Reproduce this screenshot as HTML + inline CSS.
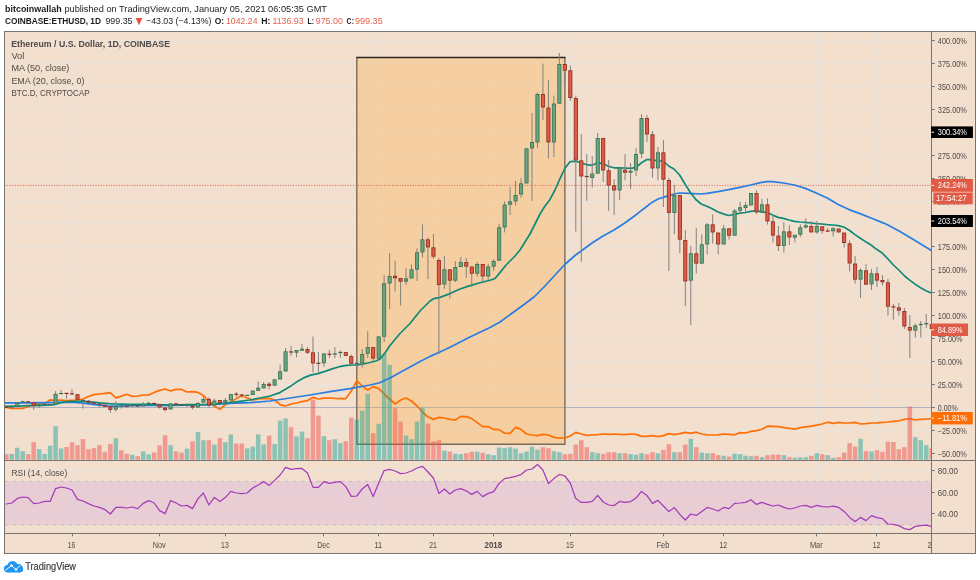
<!DOCTYPE html>
<html lang="en"><head><meta charset="utf-8"><title>ETHUSD chart by bitcoinwallah</title>
<style>html,body{margin:0;padding:0;background:#fff}body{width:980px;height:580px;overflow:hidden}svg{display:block}text{font-family:"Liberation Sans", sans-serif}</style></head><body>
<svg width="980" height="580" viewBox="0 0 980 580">
<defs><clipPath id="cpMain"><rect x="4.5" y="31.5" width="927.0" height="429.0"/></clipPath><clipPath id="cpRsi"><rect x="4.5" y="460.5" width="927.0" height="73.0"/></clipPath><clipPath id="cpTime"><rect x="4.5" y="533.5" width="927.0" height="20.0"/></clipPath></defs>
<rect x="0" y="0" width="980" height="580" fill="#ffffff"/>
<text x="5.0" y="11.6" font-size="9.2" fill="#1c1c1c" font-weight="700" textLength="56.6" lengthAdjust="spacingAndGlyphs">bitcoinwallah</text>
<text x="64.4" y="11.6" font-size="9.2" fill="#1c1c1c" textLength="262.6" lengthAdjust="spacingAndGlyphs">published on TradingView.com, January 05, 2021 06:05:35 GMT</text>
<text x="5.0" y="23.6" font-size="9.2" fill="#1c1c1c" font-weight="700" textLength="96.0" lengthAdjust="spacingAndGlyphs">COINBASE:ETHUSD, 1D</text>
<text x="105.4" y="23.6" font-size="9.2" fill="#1c1c1c" textLength="27.1" lengthAdjust="spacingAndGlyphs">999.35</text>
<polygon points="135.6,18 142.4,18 139,25.2" fill="#e8523f"/>
<text x="146.0" y="23.6" font-size="9.2" fill="#1c1c1c" textLength="65.4" lengthAdjust="spacingAndGlyphs">−43.03 (−4.13%)</text>
<text x="214.8" y="23.6" font-size="9.2" fill="#1c1c1c" font-weight="700" textLength="9.4" lengthAdjust="spacingAndGlyphs">O:</text>
<text x="226.0" y="23.6" font-size="9.2" fill="#e8604c" textLength="31.5" lengthAdjust="spacingAndGlyphs">1042.24</text>
<text x="261.3" y="23.6" font-size="9.2" fill="#1c1c1c" font-weight="700" textLength="9.2" lengthAdjust="spacingAndGlyphs">H:</text>
<text x="272.5" y="23.6" font-size="9.2" fill="#e8604c" textLength="31.0" lengthAdjust="spacingAndGlyphs">1136.93</text>
<text x="307.5" y="23.6" font-size="9.2" fill="#1c1c1c" font-weight="700" textLength="6.5" lengthAdjust="spacingAndGlyphs">L:</text>
<text x="315.8" y="23.6" font-size="9.2" fill="#e8604c" textLength="27.0" lengthAdjust="spacingAndGlyphs">975.00</text>
<text x="346.6" y="23.6" font-size="9.2" fill="#1c1c1c" font-weight="700" textLength="7.4" lengthAdjust="spacingAndGlyphs">C:</text>
<text x="355.0" y="23.6" font-size="9.2" fill="#e8604c" textLength="27.7" lengthAdjust="spacingAndGlyphs">999.35</text>
<rect x="4.5" y="31.5" width="971.0" height="522.0" fill="#f2dfce"/>
<g stroke="#eae4df" stroke-width="1" fill="none">
<line x1="72.5" y1="31.5" x2="72.5" y2="533.5"/>
<line x1="159.5" y1="31.5" x2="159.5" y2="533.5"/>
<line x1="225.5" y1="31.5" x2="225.5" y2="533.5"/>
<line x1="323.5" y1="31.5" x2="323.5" y2="533.5"/>
<line x1="378.5" y1="31.5" x2="378.5" y2="533.5"/>
<line x1="433.5" y1="31.5" x2="433.5" y2="533.5"/>
<line x1="493.5" y1="31.5" x2="493.5" y2="533.5"/>
<line x1="570.5" y1="31.5" x2="570.5" y2="533.5"/>
<line x1="663.5" y1="31.5" x2="663.5" y2="533.5"/>
<line x1="723.5" y1="31.5" x2="723.5" y2="533.5"/>
<line x1="816.5" y1="31.5" x2="816.5" y2="533.5"/>
<line x1="876.5" y1="31.5" x2="876.5" y2="533.5"/>
<line x1="4.5" y1="453.5" x2="931.5" y2="453.5"/>
<line x1="4.5" y1="430.5" x2="931.5" y2="430.5"/>
<line x1="4.5" y1="384.5" x2="931.5" y2="384.5"/>
<line x1="4.5" y1="361.5" x2="931.5" y2="361.5"/>
<line x1="4.5" y1="338.5" x2="931.5" y2="338.5"/>
<line x1="4.5" y1="315.5" x2="931.5" y2="315.5"/>
<line x1="4.5" y1="292.5" x2="931.5" y2="292.5"/>
<line x1="4.5" y1="269.5" x2="931.5" y2="269.5"/>
<line x1="4.5" y1="246.5" x2="931.5" y2="246.5"/>
<line x1="4.5" y1="223.5" x2="931.5" y2="223.5"/>
<line x1="4.5" y1="201.5" x2="931.5" y2="201.5"/>
<line x1="4.5" y1="178.5" x2="931.5" y2="178.5"/>
<line x1="4.5" y1="155.5" x2="931.5" y2="155.5"/>
<line x1="4.5" y1="132.5" x2="931.5" y2="132.5"/>
<line x1="4.5" y1="109.5" x2="931.5" y2="109.5"/>
<line x1="4.5" y1="86.5" x2="931.5" y2="86.5"/>
<line x1="4.5" y1="63.5" x2="931.5" y2="63.5"/>
<line x1="4.5" y1="40.5" x2="931.5" y2="40.5"/>
<line x1="4.5" y1="470.5" x2="931.5" y2="470.5"/>
<line x1="4.5" y1="492.5" x2="931.5" y2="492.5"/>
<line x1="4.5" y1="513.5" x2="931.5" y2="513.5"/>
</g>
<line x1="4.5" y1="407.5" x2="931.5" y2="407.5" stroke="#adb1c0" stroke-width="1"/>
<g clip-path="url(#cpMain)">
<rect x="356.8" y="57.7" width="208.1" height="386.6" fill="#fdab3d" fill-opacity="0.30"/>
<path d="M356.8 57.7 V444.3 H564.9 V57.7" fill="none" stroke="#7a6b59" stroke-width="1.4"/>
<line x1="356.2" y1="57.5" x2="565.5" y2="57.5" stroke="#2a2522" stroke-width="1.3"/>
<polyline fill="none" stroke="#ff6f05" stroke-width="1.7" stroke-linejoin="round" stroke-linecap="round" points="6.3,407.5 11.8,408.3 17.3,408.5 22.7,408.5 28.2,406.5 33.7,404.5 39.2,404.2 44.6,404.0 50.1,399.8 55.6,400.5 61.1,400.0 66.5,400.7 72.0,400.4 77.5,400.0 83.0,399.0 88.4,396.5 93.9,394.6 99.4,394.0 104.9,393.3 110.3,392.6 115.8,397.9 121.3,396.1 126.8,394.3 132.2,396.4 137.7,396.0 143.2,395.0 148.7,395.0 154.2,392.4 159.6,390.4 165.1,389.0 170.6,391.0 176.1,389.4 181.5,389.4 187.0,392.0 192.5,391.6 198.0,392.4 203.4,395.4 208.9,401.0 214.4,406.0 219.9,409.4 225.3,404.6 230.8,402.0 236.3,398.6 241.8,395.4 247.2,398.0 252.7,400.0 258.2,399.0 263.7,398.6 269.1,398.4 274.6,400.0 280.1,404.6 285.6,406.0 291.1,404.0 296.5,403.0 302.0,401.6 307.5,400.6 313.0,397.4 318.4,399.0 323.9,398.2 329.4,398.0 334.9,398.4 340.3,398.6 345.8,398.6 351.3,391.0 356.8,380.6 362.2,386.0 367.7,390.0 373.2,386.6 378.7,388.6 384.1,394.0 389.6,399.0 395.1,404.0 400.6,400.0 406.0,398.0 411.5,401.0 417.0,406.0 422.5,412.0 428.0,417.0 433.4,419.4 438.9,417.4 444.4,418.0 449.9,419.4 455.3,420.0 460.8,416.4 466.3,416.6 471.8,418.6 477.2,422.6 482.7,426.6 488.2,426.6 493.7,429.4 499.1,429.6 504.6,433.2 510.1,433.4 515.6,427.4 521.0,429.4 526.5,434.0 532.0,435.0 537.5,435.6 542.9,434.4 548.4,435.0 553.9,437.4 559.4,438.2 564.9,438.0 570.3,436.0 575.8,432.4 581.3,434.0 586.8,435.4 592.2,435.0 597.7,434.6 603.2,434.0 608.7,434.4 614.1,434.0 619.6,434.4 625.1,434.6 630.6,434.0 636.0,434.4 641.5,436.4 647.0,436.4 652.5,435.6 657.9,436.6 663.4,435.6 668.9,433.6 674.4,434.6 679.8,433.6 685.3,432.4 690.8,433.4 696.3,432.2 701.8,434.0 707.2,434.8 712.7,435.0 718.2,434.8 723.7,434.0 729.1,434.4 734.6,434.8 740.1,432.6 745.6,433.0 751.0,431.4 756.5,430.6 762.0,429.2 767.5,426.2 772.9,426.4 778.4,426.6 783.9,427.6 789.4,428.4 794.8,429.2 800.3,427.6 805.8,426.8 811.3,426.2 816.7,425.2 822.2,424.0 827.7,422.2 833.2,423.4 838.7,422.4 844.1,423.0 849.6,422.8 855.1,422.4 860.6,424.0 866.0,423.6 871.5,423.0 877.0,422.8 882.5,422.4 887.9,422.0 893.4,421.4 898.9,420.8 904.4,419.4 909.8,418.6 915.3,420.0 920.8,419.4 926.3,419.0 931.7,418.6"/>
<g>
<rect x="4.05" y="454.20" width="4.5" height="5.60" fill="rgba(239,83,80,0.5)"/>
<rect x="9.53" y="453.90" width="4.5" height="5.90" fill="rgba(38,166,154,0.5)"/>
<rect x="15.00" y="447.80" width="4.5" height="12.00" fill="rgba(38,166,154,0.5)"/>
<rect x="20.48" y="451.20" width="4.5" height="8.60" fill="rgba(38,166,154,0.5)"/>
<rect x="25.95" y="454.10" width="4.5" height="5.70" fill="rgba(239,83,80,0.5)"/>
<rect x="31.43" y="442.10" width="4.5" height="17.70" fill="rgba(239,83,80,0.5)"/>
<rect x="36.91" y="449.10" width="4.5" height="10.70" fill="rgba(38,166,154,0.5)"/>
<rect x="42.38" y="453.90" width="4.5" height="5.90" fill="rgba(38,166,154,0.5)"/>
<rect x="47.86" y="445.70" width="4.5" height="14.10" fill="rgba(38,166,154,0.5)"/>
<rect x="53.33" y="426.20" width="4.5" height="33.60" fill="rgba(38,166,154,0.5)"/>
<rect x="58.81" y="448.50" width="4.5" height="11.30" fill="rgba(38,166,154,0.5)"/>
<rect x="64.29" y="447.10" width="4.5" height="12.70" fill="rgba(239,83,80,0.5)"/>
<rect x="69.76" y="442.20" width="4.5" height="17.60" fill="rgba(239,83,80,0.5)"/>
<rect x="75.24" y="445.20" width="4.5" height="14.60" fill="rgba(239,83,80,0.5)"/>
<rect x="80.71" y="439.10" width="4.5" height="20.70" fill="rgba(239,83,80,0.5)"/>
<rect x="86.19" y="449.20" width="4.5" height="10.60" fill="rgba(239,83,80,0.5)"/>
<rect x="91.67" y="448.10" width="4.5" height="11.70" fill="rgba(239,83,80,0.5)"/>
<rect x="97.14" y="445.10" width="4.5" height="14.70" fill="rgba(239,83,80,0.5)"/>
<rect x="102.62" y="451.80" width="4.5" height="8.00" fill="rgba(239,83,80,0.5)"/>
<rect x="108.09" y="443.90" width="4.5" height="15.90" fill="rgba(239,83,80,0.5)"/>
<rect x="113.57" y="438.20" width="4.5" height="21.60" fill="rgba(38,166,154,0.5)"/>
<rect x="119.05" y="450.20" width="4.5" height="9.60" fill="rgba(239,83,80,0.5)"/>
<rect x="124.52" y="453.70" width="4.5" height="6.10" fill="rgba(239,83,80,0.5)"/>
<rect x="130.00" y="454.80" width="4.5" height="5.00" fill="rgba(38,166,154,0.5)"/>
<rect x="135.47" y="456.20" width="4.5" height="3.60" fill="rgba(239,83,80,0.5)"/>
<rect x="140.95" y="451.40" width="4.5" height="8.40" fill="rgba(38,166,154,0.5)"/>
<rect x="146.43" y="454.40" width="4.5" height="5.40" fill="rgba(38,166,154,0.5)"/>
<rect x="151.90" y="452.40" width="4.5" height="7.40" fill="rgba(239,83,80,0.5)"/>
<rect x="157.38" y="445.40" width="4.5" height="14.40" fill="rgba(239,83,80,0.5)"/>
<rect x="162.85" y="435.20" width="4.5" height="24.60" fill="rgba(239,83,80,0.5)"/>
<rect x="168.33" y="445.20" width="4.5" height="14.60" fill="rgba(38,166,154,0.5)"/>
<rect x="173.81" y="451.40" width="4.5" height="8.40" fill="rgba(239,83,80,0.5)"/>
<rect x="179.28" y="452.60" width="4.5" height="7.20" fill="rgba(239,83,80,0.5)"/>
<rect x="184.76" y="448.60" width="4.5" height="11.20" fill="rgba(38,166,154,0.5)"/>
<rect x="190.23" y="441.40" width="4.5" height="18.40" fill="rgba(239,83,80,0.5)"/>
<rect x="195.71" y="432.00" width="4.5" height="27.80" fill="rgba(38,166,154,0.5)"/>
<rect x="201.19" y="440.20" width="4.5" height="19.60" fill="rgba(38,166,154,0.5)"/>
<rect x="206.66" y="440.20" width="4.5" height="19.60" fill="rgba(239,83,80,0.5)"/>
<rect x="212.14" y="444.60" width="4.5" height="15.20" fill="rgba(38,166,154,0.5)"/>
<rect x="217.61" y="438.20" width="4.5" height="21.60" fill="rgba(239,83,80,0.5)"/>
<rect x="223.09" y="442.20" width="4.5" height="17.60" fill="rgba(38,166,154,0.5)"/>
<rect x="228.57" y="434.40" width="4.5" height="25.40" fill="rgba(38,166,154,0.5)"/>
<rect x="234.04" y="443.60" width="4.5" height="16.20" fill="rgba(239,83,80,0.5)"/>
<rect x="239.52" y="443.60" width="4.5" height="16.20" fill="rgba(239,83,80,0.5)"/>
<rect x="244.99" y="448.40" width="4.5" height="11.40" fill="rgba(38,166,154,0.5)"/>
<rect x="250.47" y="446.60" width="4.5" height="13.20" fill="rgba(38,166,154,0.5)"/>
<rect x="255.95" y="434.40" width="4.5" height="25.40" fill="rgba(38,166,154,0.5)"/>
<rect x="261.42" y="444.40" width="4.5" height="15.40" fill="rgba(38,166,154,0.5)"/>
<rect x="266.90" y="435.60" width="4.5" height="24.20" fill="rgba(239,83,80,0.5)"/>
<rect x="272.37" y="444.00" width="4.5" height="15.80" fill="rgba(38,166,154,0.5)"/>
<rect x="277.85" y="420.60" width="4.5" height="39.20" fill="rgba(38,166,154,0.5)"/>
<rect x="283.33" y="418.40" width="4.5" height="41.40" fill="rgba(38,166,154,0.5)"/>
<rect x="288.80" y="427.20" width="4.5" height="32.60" fill="rgba(239,83,80,0.5)"/>
<rect x="294.28" y="436.40" width="4.5" height="23.40" fill="rgba(38,166,154,0.5)"/>
<rect x="299.75" y="431.60" width="4.5" height="28.20" fill="rgba(38,166,154,0.5)"/>
<rect x="305.23" y="438.20" width="4.5" height="21.60" fill="rgba(239,83,80,0.5)"/>
<rect x="310.71" y="399.60" width="4.5" height="60.20" fill="rgba(239,83,80,0.5)"/>
<rect x="316.18" y="415.60" width="4.5" height="44.20" fill="rgba(239,83,80,0.5)"/>
<rect x="321.66" y="436.20" width="4.5" height="23.60" fill="rgba(38,166,154,0.5)"/>
<rect x="327.13" y="440.20" width="4.5" height="19.60" fill="rgba(239,83,80,0.5)"/>
<rect x="332.61" y="439.20" width="4.5" height="20.60" fill="rgba(38,166,154,0.5)"/>
<rect x="338.09" y="443.20" width="4.5" height="16.60" fill="rgba(38,166,154,0.5)"/>
<rect x="343.56" y="441.20" width="4.5" height="18.60" fill="rgba(239,83,80,0.5)"/>
<rect x="349.04" y="417.60" width="4.5" height="42.20" fill="rgba(239,83,80,0.5)"/>
<rect x="354.51" y="419.60" width="4.5" height="40.20" fill="rgba(38,166,154,0.5)"/>
<rect x="359.99" y="410.60" width="4.5" height="49.20" fill="rgba(38,166,154,0.5)"/>
<rect x="365.47" y="393.80" width="4.5" height="66.00" fill="rgba(38,166,154,0.5)"/>
<rect x="370.94" y="433.20" width="4.5" height="26.60" fill="rgba(239,83,80,0.5)"/>
<rect x="376.42" y="423.80" width="4.5" height="36.00" fill="rgba(38,166,154,0.5)"/>
<rect x="381.89" y="353.80" width="4.5" height="106.00" fill="rgba(38,166,154,0.5)"/>
<rect x="387.37" y="364.80" width="4.5" height="95.00" fill="rgba(38,166,154,0.5)"/>
<rect x="392.85" y="408.20" width="4.5" height="51.60" fill="rgba(239,83,80,0.5)"/>
<rect x="398.32" y="421.60" width="4.5" height="38.20" fill="rgba(239,83,80,0.5)"/>
<rect x="403.80" y="435.60" width="4.5" height="24.20" fill="rgba(38,166,154,0.5)"/>
<rect x="409.27" y="439.20" width="4.5" height="20.60" fill="rgba(38,166,154,0.5)"/>
<rect x="414.75" y="421.60" width="4.5" height="38.20" fill="rgba(38,166,154,0.5)"/>
<rect x="420.23" y="407.60" width="4.5" height="52.20" fill="rgba(38,166,154,0.5)"/>
<rect x="425.70" y="423.60" width="4.5" height="36.20" fill="rgba(239,83,80,0.5)"/>
<rect x="431.18" y="441.20" width="4.5" height="18.60" fill="rgba(239,83,80,0.5)"/>
<rect x="436.65" y="440.20" width="4.5" height="19.60" fill="rgba(239,83,80,0.5)"/>
<rect x="442.13" y="450.60" width="4.5" height="9.20" fill="rgba(38,166,154,0.5)"/>
<rect x="447.61" y="451.60" width="4.5" height="8.20" fill="rgba(239,83,80,0.5)"/>
<rect x="453.08" y="453.80" width="4.5" height="6.00" fill="rgba(38,166,154,0.5)"/>
<rect x="458.56" y="454.20" width="4.5" height="5.60" fill="rgba(38,166,154,0.5)"/>
<rect x="464.03" y="453.20" width="4.5" height="6.60" fill="rgba(239,83,80,0.5)"/>
<rect x="469.51" y="451.80" width="4.5" height="8.00" fill="rgba(239,83,80,0.5)"/>
<rect x="474.99" y="451.80" width="4.5" height="8.00" fill="rgba(38,166,154,0.5)"/>
<rect x="480.46" y="452.80" width="4.5" height="7.00" fill="rgba(239,83,80,0.5)"/>
<rect x="485.94" y="454.20" width="4.5" height="5.60" fill="rgba(38,166,154,0.5)"/>
<rect x="491.41" y="455.20" width="4.5" height="4.60" fill="rgba(38,166,154,0.5)"/>
<rect x="496.89" y="447.60" width="4.5" height="12.20" fill="rgba(38,166,154,0.5)"/>
<rect x="502.37" y="448.20" width="4.5" height="11.60" fill="rgba(38,166,154,0.5)"/>
<rect x="507.84" y="447.20" width="4.5" height="12.60" fill="rgba(38,166,154,0.5)"/>
<rect x="513.32" y="448.60" width="4.5" height="11.20" fill="rgba(38,166,154,0.5)"/>
<rect x="518.79" y="453.20" width="4.5" height="6.60" fill="rgba(38,166,154,0.5)"/>
<rect x="524.27" y="451.60" width="4.5" height="8.20" fill="rgba(38,166,154,0.5)"/>
<rect x="529.75" y="446.80" width="4.5" height="13.00" fill="rgba(38,166,154,0.5)"/>
<rect x="535.22" y="449.60" width="4.5" height="10.20" fill="rgba(38,166,154,0.5)"/>
<rect x="540.70" y="447.20" width="4.5" height="12.60" fill="rgba(239,83,80,0.5)"/>
<rect x="546.17" y="448.20" width="4.5" height="11.60" fill="rgba(239,83,80,0.5)"/>
<rect x="551.65" y="451.20" width="4.5" height="8.60" fill="rgba(38,166,154,0.5)"/>
<rect x="557.13" y="452.20" width="4.5" height="7.60" fill="rgba(38,166,154,0.5)"/>
<rect x="562.60" y="454.20" width="4.5" height="5.60" fill="rgba(239,83,80,0.5)"/>
<rect x="568.08" y="453.80" width="4.5" height="6.00" fill="rgba(239,83,80,0.5)"/>
<rect x="573.55" y="444.60" width="4.5" height="15.20" fill="rgba(239,83,80,0.5)"/>
<rect x="579.03" y="440.20" width="4.5" height="19.60" fill="rgba(239,83,80,0.5)"/>
<rect x="584.51" y="447.20" width="4.5" height="12.60" fill="rgba(239,83,80,0.5)"/>
<rect x="589.98" y="452.20" width="4.5" height="7.60" fill="rgba(38,166,154,0.5)"/>
<rect x="595.46" y="453.20" width="4.5" height="6.60" fill="rgba(38,166,154,0.5)"/>
<rect x="600.93" y="453.80" width="4.5" height="6.00" fill="rgba(239,83,80,0.5)"/>
<rect x="606.41" y="452.20" width="4.5" height="7.60" fill="rgba(239,83,80,0.5)"/>
<rect x="611.89" y="452.20" width="4.5" height="7.60" fill="rgba(239,83,80,0.5)"/>
<rect x="617.36" y="453.20" width="4.5" height="6.60" fill="rgba(38,166,154,0.5)"/>
<rect x="622.84" y="453.20" width="4.5" height="6.60" fill="rgba(239,83,80,0.5)"/>
<rect x="628.31" y="454.20" width="4.5" height="5.60" fill="rgba(38,166,154,0.5)"/>
<rect x="633.79" y="454.80" width="4.5" height="5.00" fill="rgba(38,166,154,0.5)"/>
<rect x="639.27" y="453.20" width="4.5" height="6.60" fill="rgba(38,166,154,0.5)"/>
<rect x="644.74" y="454.20" width="4.5" height="5.60" fill="rgba(239,83,80,0.5)"/>
<rect x="650.22" y="452.20" width="4.5" height="7.60" fill="rgba(239,83,80,0.5)"/>
<rect x="655.69" y="453.20" width="4.5" height="6.60" fill="rgba(38,166,154,0.5)"/>
<rect x="661.17" y="449.80" width="4.5" height="10.00" fill="rgba(239,83,80,0.5)"/>
<rect x="666.65" y="444.20" width="4.5" height="15.60" fill="rgba(239,83,80,0.5)"/>
<rect x="672.12" y="452.20" width="4.5" height="7.60" fill="rgba(38,166,154,0.5)"/>
<rect x="677.60" y="452.20" width="4.5" height="7.60" fill="rgba(239,83,80,0.5)"/>
<rect x="683.07" y="444.60" width="4.5" height="15.20" fill="rgba(239,83,80,0.5)"/>
<rect x="688.55" y="438.80" width="4.5" height="21.00" fill="rgba(38,166,154,0.5)"/>
<rect x="694.03" y="447.20" width="4.5" height="12.60" fill="rgba(239,83,80,0.5)"/>
<rect x="699.50" y="452.60" width="4.5" height="7.20" fill="rgba(38,166,154,0.5)"/>
<rect x="704.98" y="453.20" width="4.5" height="6.60" fill="rgba(38,166,154,0.5)"/>
<rect x="710.45" y="453.20" width="4.5" height="6.60" fill="rgba(239,83,80,0.5)"/>
<rect x="715.93" y="455.20" width="4.5" height="4.60" fill="rgba(239,83,80,0.5)"/>
<rect x="721.41" y="455.80" width="4.5" height="4.00" fill="rgba(38,166,154,0.5)"/>
<rect x="726.88" y="456.60" width="4.5" height="3.20" fill="rgba(239,83,80,0.5)"/>
<rect x="732.36" y="453.80" width="4.5" height="6.00" fill="rgba(38,166,154,0.5)"/>
<rect x="737.83" y="454.20" width="4.5" height="5.60" fill="rgba(38,166,154,0.5)"/>
<rect x="743.31" y="455.80" width="4.5" height="4.00" fill="rgba(38,166,154,0.5)"/>
<rect x="748.79" y="456.20" width="4.5" height="3.60" fill="rgba(38,166,154,0.5)"/>
<rect x="754.26" y="455.80" width="4.5" height="4.00" fill="rgba(239,83,80,0.5)"/>
<rect x="759.74" y="457.20" width="4.5" height="2.60" fill="rgba(38,166,154,0.5)"/>
<rect x="765.21" y="455.20" width="4.5" height="4.60" fill="rgba(239,83,80,0.5)"/>
<rect x="770.69" y="454.60" width="4.5" height="5.20" fill="rgba(239,83,80,0.5)"/>
<rect x="776.17" y="454.60" width="4.5" height="5.20" fill="rgba(239,83,80,0.5)"/>
<rect x="781.64" y="455.20" width="4.5" height="4.60" fill="rgba(38,166,154,0.5)"/>
<rect x="787.12" y="457.20" width="4.5" height="2.60" fill="rgba(239,83,80,0.5)"/>
<rect x="792.59" y="457.80" width="4.5" height="2.00" fill="rgba(38,166,154,0.5)"/>
<rect x="798.07" y="457.20" width="4.5" height="2.60" fill="rgba(38,166,154,0.5)"/>
<rect x="803.55" y="457.20" width="4.5" height="2.60" fill="rgba(38,166,154,0.5)"/>
<rect x="809.02" y="455.80" width="4.5" height="4.00" fill="rgba(239,83,80,0.5)"/>
<rect x="814.50" y="453.20" width="4.5" height="6.60" fill="rgba(38,166,154,0.5)"/>
<rect x="819.97" y="454.20" width="4.5" height="5.60" fill="rgba(239,83,80,0.5)"/>
<rect x="825.45" y="455.20" width="4.5" height="4.60" fill="rgba(38,166,154,0.5)"/>
<rect x="830.93" y="457.80" width="4.5" height="2.00" fill="rgba(38,166,154,0.5)"/>
<rect x="836.40" y="457.20" width="4.5" height="2.60" fill="rgba(239,83,80,0.5)"/>
<rect x="841.88" y="452.60" width="4.5" height="7.20" fill="rgba(239,83,80,0.5)"/>
<rect x="847.35" y="443.20" width="4.5" height="16.60" fill="rgba(239,83,80,0.5)"/>
<rect x="852.83" y="446.60" width="4.5" height="13.20" fill="rgba(239,83,80,0.5)"/>
<rect x="858.31" y="438.80" width="4.5" height="21.00" fill="rgba(38,166,154,0.5)"/>
<rect x="863.78" y="451.20" width="4.5" height="8.60" fill="rgba(239,83,80,0.5)"/>
<rect x="869.26" y="451.60" width="4.5" height="8.20" fill="rgba(38,166,154,0.5)"/>
<rect x="874.73" y="450.20" width="4.5" height="9.60" fill="rgba(239,83,80,0.5)"/>
<rect x="880.21" y="451.80" width="4.5" height="8.00" fill="rgba(239,83,80,0.5)"/>
<rect x="885.69" y="441.60" width="4.5" height="18.20" fill="rgba(239,83,80,0.5)"/>
<rect x="891.16" y="442.00" width="4.5" height="17.80" fill="rgba(239,83,80,0.5)"/>
<rect x="896.64" y="449.20" width="4.5" height="10.60" fill="rgba(239,83,80,0.5)"/>
<rect x="902.11" y="447.20" width="4.5" height="12.60" fill="rgba(239,83,80,0.5)"/>
<rect x="907.59" y="406.60" width="4.5" height="53.20" fill="rgba(239,83,80,0.5)"/>
<rect x="913.07" y="437.20" width="4.5" height="22.60" fill="rgba(38,166,154,0.5)"/>
<rect x="918.54" y="440.20" width="4.5" height="19.60" fill="rgba(38,166,154,0.5)"/>
<rect x="924.02" y="445.20" width="4.5" height="14.60" fill="rgba(38,166,154,0.5)"/>
<rect x="929.49" y="448.20" width="4.5" height="11.60" fill="rgba(239,83,80,0.5)"/>
</g>
<line x1="4.5" y1="185.4" x2="931.5" y2="185.4" stroke="#e0604c" stroke-width="1" stroke-dasharray="1 1.6"/>
<polyline fill="none" stroke="#2a7de1" stroke-width="1.7" stroke-linejoin="round" stroke-linecap="round" points="5.0,402.9 28.6,402.9 50.0,402.6 64.3,402.1 74.3,402.4 82.9,403.1 92.9,404.3 100.0,405.2 108.6,406.0 114.3,406.2 125.7,406.0 140.0,405.4 170.0,405.4 210.0,404.6 230.0,403.4 250.0,402.6 270.0,401.0 290.0,398.0 310.0,395.0 330.0,391.6 350.0,388.6 370.0,385.0 379.0,383.0 390.0,378.0 400.0,372.4 410.0,367.0 420.0,361.4 430.0,356.4 440.0,352.0 450.0,347.2 470.0,337.0 490.0,327.4 500.0,322.0 506.0,317.6 522.0,306.0 534.0,297.0 545.0,286.0 556.0,274.0 564.8,264.5 575.6,255.0 581.2,251.0 592.0,243.0 603.0,236.0 614.0,230.0 624.8,223.0 635.8,215.0 640.0,211.6 646.0,207.0 652.0,202.4 658.0,199.0 663.2,197.4 668.6,195.6 674.0,194.0 679.6,193.0 690.0,193.3 700.0,194.0 707.0,193.4 717.8,191.6 728.8,189.6 739.8,187.3 750.6,185.0 761.6,182.4 767.0,181.6 772.6,181.6 783.4,183.0 794.4,185.0 805.4,188.4 816.2,193.0 827.2,198.0 838.2,204.4 849.0,209.6 860.0,213.6 871.0,218.0 881.8,222.4 886.0,224.0 900.0,231.5 915.0,240.5 931.4,250.5"/>
<polyline fill="none" stroke="#0f8a78" stroke-width="1.7" stroke-linejoin="round" stroke-linecap="round" points="5.0,406.4 17.1,406.1 28.6,405.7 42.9,405.4 54.3,404.6 60.0,402.9 67.1,401.7 74.3,401.4 82.9,401.4 92.9,402.1 100.0,402.9 108.6,403.6 114.3,403.9 128.6,404.3 150.0,404.4 170.0,405.0 190.0,404.6 210.0,404.4 226.0,403.0 238.0,401.6 250.0,400.0 260.0,398.0 270.0,396.0 280.0,392.6 290.0,386.6 296.4,382.1 303.6,377.9 310.7,375.1 317.9,373.6 325.0,371.4 332.1,368.9 339.3,366.7 346.4,365.4 353.6,365.0 357.0,364.9 363.0,364.0 370.0,362.5 376.0,361.0 380.0,359.0 385.0,353.0 390.0,345.5 400.0,333.5 410.0,323.5 420.0,311.0 425.0,306.0 430.0,301.0 434.0,298.6 440.0,297.4 450.0,293.6 460.0,289.0 470.0,285.6 480.0,282.8 490.0,280.2 495.0,278.5 500.0,272.6 506.0,265.0 510.0,261.0 515.0,256.0 520.0,250.0 530.0,234.0 540.0,214.0 545.0,206.0 550.0,199.4 555.0,190.0 560.0,178.6 564.8,168.5 570.2,161.6 575.6,161.3 581.2,162.7 586.6,164.7 592.0,165.3 597.6,162.7 603.0,163.8 608.4,166.2 614.0,167.8 619.4,167.8 624.8,168.0 630.4,168.4 635.8,167.6 641.2,163.0 646.8,159.6 652.2,159.6 657.6,161.0 663.2,161.0 668.6,166.0 674.0,169.0 679.6,175.0 685.0,184.0 690.4,192.5 695.8,199.5 701.2,204.0 706.8,206.3 712.2,208.8 717.6,211.7 723.2,213.9 728.6,215.5 734.0,214.5 740.0,213.2 745.4,212.5 750.8,211.3 756.2,210.5 761.6,212.0 767.0,212.4 772.6,215.0 778.0,217.4 783.4,218.4 789.0,220.0 794.4,221.4 799.8,222.0 805.4,222.4 810.8,223.0 816.2,223.6 821.8,224.0 827.2,224.6 832.6,225.0 838.2,225.6 843.6,227.0 849.0,230.0 854.6,234.4 860.0,238.0 865.4,241.6 871.0,245.0 876.6,249.3 882.2,253.0 888.0,259.0 893.4,265.0 898.8,270.0 904.6,276.0 910.0,280.4 915.4,284.4 921.0,288.0 926.4,291.0 931.4,293.0"/>
<g stroke-width="0.8">
<line x1="6.30" y1="406.7" x2="6.30" y2="407.6" stroke="#848180" stroke-width="1"/>
<rect x="4.30" y="406.5" width="4" height="1.2" fill="#8a2a1e" stroke="none"/>
<line x1="11.78" y1="406.6" x2="11.78" y2="409.3" stroke="#848180" stroke-width="1"/>
<rect x="9.78" y="406.3" width="4" height="1.2" fill="#33704f" stroke="none"/>
<line x1="17.25" y1="402.9" x2="17.25" y2="406.4" stroke="#848180" stroke-width="1"/>
<rect x="15.65" y="403.26" width="3.2" height="2.77" fill="#6aa583" stroke="#33704f"/>
<line x1="22.73" y1="400.7" x2="22.73" y2="402.4" stroke="#848180" stroke-width="1"/>
<rect x="20.73" y="401.3" width="4" height="1.2" fill="#33704f" stroke="none"/>
<line x1="28.20" y1="401.0" x2="28.20" y2="402.3" stroke="#848180" stroke-width="1"/>
<rect x="26.20" y="401.3" width="4" height="1.2" fill="#8a2a1e" stroke="none"/>
<line x1="33.68" y1="402.4" x2="33.68" y2="409.6" stroke="#848180" stroke-width="1"/>
<rect x="32.08" y="402.83" width="3.2" height="2.77" fill="#e05a45" stroke="#8a2a1e"/>
<line x1="39.16" y1="403.6" x2="39.16" y2="407.9" stroke="#848180" stroke-width="1"/>
<rect x="37.16" y="404.3" width="4" height="1.2" fill="#33704f" stroke="none"/>
<line x1="44.63" y1="404.0" x2="44.63" y2="404.9" stroke="#848180" stroke-width="1"/>
<rect x="42.63" y="403.8" width="4" height="1.2" fill="#33704f" stroke="none"/>
<line x1="50.11" y1="404.3" x2="50.11" y2="405.0" stroke="#848180" stroke-width="1"/>
<rect x="48.11" y="404.0" width="4" height="1.2" fill="#33704f" stroke="none"/>
<line x1="55.58" y1="391.1" x2="55.58" y2="404.3" stroke="#848180" stroke-width="1"/>
<rect x="53.98" y="394.26" width="3.2" height="9.63" fill="#6aa583" stroke="#33704f"/>
<line x1="61.06" y1="390.3" x2="61.06" y2="394.0" stroke="#848180" stroke-width="1"/>
<rect x="59.06" y="393.0" width="4" height="1.2" fill="#33704f" stroke="none"/>
<line x1="66.54" y1="393.0" x2="66.54" y2="398.6" stroke="#848180" stroke-width="1"/>
<rect x="64.54" y="392.8" width="4" height="1.2" fill="#8a2a1e" stroke="none"/>
<line x1="72.01" y1="389.0" x2="72.01" y2="394.4" stroke="#848180" stroke-width="1"/>
<rect x="70.01" y="393.3" width="4" height="1.2" fill="#8a2a1e" stroke="none"/>
<line x1="77.49" y1="394.3" x2="77.49" y2="399.7" stroke="#848180" stroke-width="1"/>
<rect x="75.89" y="394.69" width="3.2" height="4.63" fill="#e05a45" stroke="#8a2a1e"/>
<line x1="82.96" y1="400.0" x2="82.96" y2="408.6" stroke="#848180" stroke-width="1"/>
<rect x="80.96" y="399.8" width="4" height="1.2" fill="#33704f" stroke="none"/>
<line x1="88.44" y1="400.0" x2="88.44" y2="402.4" stroke="#848180" stroke-width="1"/>
<rect x="86.84" y="401.15" width="3.2" height="1.13" fill="#e05a45" stroke="#8a2a1e"/>
<line x1="93.92" y1="402.6" x2="93.92" y2="403.7" stroke="#848180" stroke-width="1"/>
<rect x="91.92" y="402.5" width="4" height="1.2" fill="#8a2a1e" stroke="none"/>
<line x1="99.39" y1="404.0" x2="99.39" y2="407.4" stroke="#848180" stroke-width="1"/>
<rect x="97.39" y="403.8" width="4" height="1.2" fill="#8a2a1e" stroke="none"/>
<line x1="104.87" y1="405.0" x2="104.87" y2="406.6" stroke="#848180" stroke-width="1"/>
<rect x="103.27" y="405.15" width="3.2" height="1.27" fill="#e05a45" stroke="#8a2a1e"/>
<line x1="110.34" y1="406.7" x2="110.34" y2="412.9" stroke="#848180" stroke-width="1"/>
<rect x="108.74" y="406.86" width="3.2" height="2.56" fill="#e05a45" stroke="#8a2a1e"/>
<line x1="115.82" y1="401.1" x2="115.82" y2="411.4" stroke="#848180" stroke-width="1"/>
<rect x="114.22" y="406.54" width="3.2" height="2.63" fill="#6aa583" stroke="#33704f"/>
<line x1="121.30" y1="405.7" x2="121.30" y2="408.6" stroke="#848180" stroke-width="1"/>
<rect x="119.30" y="405.4" width="4" height="1.2" fill="#33704f" stroke="none"/>
<line x1="126.77" y1="406.0" x2="126.77" y2="406.6" stroke="#848180" stroke-width="1"/>
<rect x="124.77" y="405.7" width="4" height="1.2" fill="#8a2a1e" stroke="none"/>
<line x1="132.25" y1="405.0" x2="132.25" y2="407.4" stroke="#848180" stroke-width="1"/>
<rect x="130.25" y="404.8" width="4" height="1.2" fill="#33704f" stroke="none"/>
<line x1="137.72" y1="405.6" x2="137.72" y2="406.4" stroke="#848180" stroke-width="1"/>
<rect x="135.72" y="405.4" width="4" height="1.2" fill="#8a2a1e" stroke="none"/>
<line x1="143.20" y1="402.0" x2="143.20" y2="406.2" stroke="#848180" stroke-width="1"/>
<rect x="141.60" y="404.35" width="3.2" height="1.70" fill="#6aa583" stroke="#33704f"/>
<line x1="148.68" y1="401.6" x2="148.68" y2="404.0" stroke="#848180" stroke-width="1"/>
<rect x="146.68" y="402.9" width="4" height="1.2" fill="#33704f" stroke="none"/>
<line x1="154.15" y1="403.0" x2="154.15" y2="404.0" stroke="#848180" stroke-width="1"/>
<rect x="152.15" y="402.9" width="4" height="1.2" fill="#8a2a1e" stroke="none"/>
<line x1="159.63" y1="404.0" x2="159.63" y2="408.6" stroke="#848180" stroke-width="1"/>
<rect x="158.03" y="404.40" width="3.2" height="2.60" fill="#e05a45" stroke="#8a2a1e"/>
<line x1="165.10" y1="407.8" x2="165.10" y2="411.6" stroke="#848180" stroke-width="1"/>
<rect x="163.50" y="407.95" width="3.2" height="1.70" fill="#e05a45" stroke="#8a2a1e"/>
<line x1="170.58" y1="403.4" x2="170.58" y2="409.4" stroke="#848180" stroke-width="1"/>
<rect x="168.98" y="403.80" width="3.2" height="5.20" fill="#6aa583" stroke="#33704f"/>
<line x1="176.06" y1="403.4" x2="176.06" y2="404.6" stroke="#848180" stroke-width="1"/>
<rect x="174.06" y="403.4" width="4" height="1.2" fill="#8a2a1e" stroke="none"/>
<line x1="181.53" y1="404.6" x2="181.53" y2="405.4" stroke="#848180" stroke-width="1"/>
<rect x="179.53" y="404.4" width="4" height="1.2" fill="#8a2a1e" stroke="none"/>
<line x1="187.01" y1="403.6" x2="187.01" y2="407.0" stroke="#848180" stroke-width="1"/>
<rect x="185.01" y="404.5" width="4" height="1.2" fill="#33704f" stroke="none"/>
<line x1="192.48" y1="405.8" x2="192.48" y2="409.4" stroke="#848180" stroke-width="1"/>
<rect x="190.88" y="405.95" width="3.2" height="1.10" fill="#e05a45" stroke="#8a2a1e"/>
<line x1="197.96" y1="402.0" x2="197.96" y2="407.4" stroke="#848180" stroke-width="1"/>
<rect x="196.36" y="403.40" width="3.2" height="3.60" fill="#6aa583" stroke="#33704f"/>
<line x1="203.44" y1="396.4" x2="203.44" y2="402.6" stroke="#848180" stroke-width="1"/>
<rect x="201.84" y="399.40" width="3.2" height="2.80" fill="#6aa583" stroke="#33704f"/>
<line x1="208.91" y1="397.4" x2="208.91" y2="407.4" stroke="#848180" stroke-width="1"/>
<rect x="207.31" y="399.40" width="3.2" height="5.60" fill="#e05a45" stroke="#8a2a1e"/>
<line x1="214.39" y1="398.6" x2="214.39" y2="405.4" stroke="#848180" stroke-width="1"/>
<rect x="212.79" y="401.00" width="3.2" height="4.00" fill="#6aa583" stroke="#33704f"/>
<line x1="219.86" y1="400.4" x2="219.86" y2="402.8" stroke="#848180" stroke-width="1"/>
<rect x="218.26" y="400.55" width="3.2" height="2.10" fill="#e05a45" stroke="#8a2a1e"/>
<line x1="225.34" y1="398.0" x2="225.34" y2="402.6" stroke="#848180" stroke-width="1"/>
<rect x="223.74" y="400.35" width="3.2" height="2.10" fill="#6aa583" stroke="#33704f"/>
<line x1="230.82" y1="394.2" x2="230.82" y2="400.4" stroke="#848180" stroke-width="1"/>
<rect x="229.22" y="394.60" width="3.2" height="5.40" fill="#6aa583" stroke="#33704f"/>
<line x1="236.29" y1="392.0" x2="236.29" y2="396.6" stroke="#848180" stroke-width="1"/>
<rect x="234.29" y="393.7" width="4" height="1.2" fill="#8a2a1e" stroke="none"/>
<line x1="241.77" y1="394.0" x2="241.77" y2="398.0" stroke="#848180" stroke-width="1"/>
<rect x="239.77" y="394.5" width="4" height="1.2" fill="#8a2a1e" stroke="none"/>
<line x1="247.24" y1="395.0" x2="247.24" y2="395.6" stroke="#848180" stroke-width="1"/>
<rect x="245.24" y="394.7" width="4" height="1.2" fill="#33704f" stroke="none"/>
<line x1="252.72" y1="390.6" x2="252.72" y2="395.0" stroke="#848180" stroke-width="1"/>
<rect x="251.12" y="391.00" width="3.2" height="3.60" fill="#6aa583" stroke="#33704f"/>
<line x1="258.20" y1="381.6" x2="258.20" y2="390.6" stroke="#848180" stroke-width="1"/>
<rect x="256.60" y="388.15" width="3.2" height="2.30" fill="#6aa583" stroke="#33704f"/>
<line x1="263.67" y1="382.0" x2="263.67" y2="388.4" stroke="#848180" stroke-width="1"/>
<rect x="262.07" y="384.40" width="3.2" height="3.60" fill="#6aa583" stroke="#33704f"/>
<line x1="269.15" y1="382.0" x2="269.15" y2="389.4" stroke="#848180" stroke-width="1"/>
<rect x="267.55" y="384.15" width="3.2" height="1.30" fill="#e05a45" stroke="#8a2a1e"/>
<line x1="274.62" y1="379.4" x2="274.62" y2="385.6" stroke="#848180" stroke-width="1"/>
<rect x="273.02" y="379.80" width="3.2" height="5.40" fill="#6aa583" stroke="#33704f"/>
<line x1="280.10" y1="364.6" x2="280.10" y2="379.4" stroke="#848180" stroke-width="1"/>
<rect x="278.50" y="371.80" width="3.2" height="7.20" fill="#6aa583" stroke="#33704f"/>
<line x1="285.58" y1="348.0" x2="285.58" y2="371.4" stroke="#848180" stroke-width="1"/>
<rect x="283.98" y="351.80" width="3.2" height="19.20" fill="#6aa583" stroke="#33704f"/>
<line x1="291.05" y1="346.0" x2="291.05" y2="356.0" stroke="#848180" stroke-width="1"/>
<rect x="289.05" y="351.4" width="4" height="1.2" fill="#8a2a1e" stroke="none"/>
<line x1="296.53" y1="350.4" x2="296.53" y2="357.4" stroke="#848180" stroke-width="1"/>
<rect x="294.93" y="350.55" width="3.2" height="1.70" fill="#6aa583" stroke="#33704f"/>
<line x1="302.00" y1="344.0" x2="302.00" y2="350.4" stroke="#848180" stroke-width="1"/>
<rect x="300.40" y="349.15" width="3.2" height="1.10" fill="#6aa583" stroke="#33704f"/>
<line x1="307.48" y1="347.0" x2="307.48" y2="354.0" stroke="#848180" stroke-width="1"/>
<rect x="305.88" y="349.55" width="3.2" height="2.70" fill="#e05a45" stroke="#8a2a1e"/>
<line x1="312.96" y1="336.6" x2="312.96" y2="372.6" stroke="#848180" stroke-width="1"/>
<rect x="311.36" y="352.80" width="3.2" height="10.20" fill="#e05a45" stroke="#8a2a1e"/>
<line x1="318.43" y1="352.0" x2="318.43" y2="372.6" stroke="#848180" stroke-width="1"/>
<rect x="316.43" y="362.7" width="4" height="1.2" fill="#8a2a1e" stroke="none"/>
<line x1="323.91" y1="353.5" x2="323.91" y2="366.8" stroke="#848180" stroke-width="1"/>
<rect x="322.31" y="353.90" width="3.2" height="8.90" fill="#6aa583" stroke="#33704f"/>
<line x1="329.38" y1="350.0" x2="329.38" y2="357.8" stroke="#848180" stroke-width="1"/>
<rect x="327.38" y="353.7" width="4" height="1.2" fill="#8a2a1e" stroke="none"/>
<line x1="334.86" y1="347.2" x2="334.86" y2="358.0" stroke="#848180" stroke-width="1"/>
<rect x="332.86" y="353.4" width="4" height="1.2" fill="#33704f" stroke="none"/>
<line x1="340.34" y1="350.5" x2="340.34" y2="357.8" stroke="#848180" stroke-width="1"/>
<rect x="338.34" y="351.9" width="4" height="1.2" fill="#33704f" stroke="none"/>
<line x1="345.81" y1="352.2" x2="345.81" y2="355.8" stroke="#848180" stroke-width="1"/>
<rect x="344.21" y="352.60" width="3.2" height="2.80" fill="#e05a45" stroke="#8a2a1e"/>
<line x1="351.29" y1="354.5" x2="351.29" y2="365.5" stroke="#848180" stroke-width="1"/>
<rect x="349.69" y="356.60" width="3.2" height="6.70" fill="#e05a45" stroke="#8a2a1e"/>
<line x1="356.76" y1="358.0" x2="356.76" y2="369.0" stroke="#848180" stroke-width="1"/>
<rect x="354.76" y="362.8" width="4" height="1.2" fill="#33704f" stroke="none"/>
<line x1="362.24" y1="349.0" x2="362.24" y2="367.5" stroke="#848180" stroke-width="1"/>
<rect x="360.64" y="354.40" width="3.2" height="8.70" fill="#6aa583" stroke="#33704f"/>
<line x1="367.72" y1="331.2" x2="367.72" y2="358.0" stroke="#848180" stroke-width="1"/>
<rect x="366.12" y="347.40" width="3.2" height="5.90" fill="#6aa583" stroke="#33704f"/>
<line x1="373.19" y1="347.2" x2="373.19" y2="361.5" stroke="#848180" stroke-width="1"/>
<rect x="371.59" y="347.60" width="3.2" height="10.50" fill="#e05a45" stroke="#8a2a1e"/>
<line x1="378.67" y1="336.5" x2="378.67" y2="358.5" stroke="#848180" stroke-width="1"/>
<rect x="377.07" y="336.90" width="3.2" height="21.20" fill="#6aa583" stroke="#33704f"/>
<line x1="384.14" y1="275.0" x2="384.14" y2="342.0" stroke="#848180" stroke-width="1"/>
<rect x="382.54" y="283.80" width="3.2" height="52.40" fill="#6aa583" stroke="#33704f"/>
<line x1="389.62" y1="253.0" x2="389.62" y2="309.0" stroke="#848180" stroke-width="1"/>
<rect x="388.02" y="276.40" width="3.2" height="6.60" fill="#6aa583" stroke="#33704f"/>
<line x1="395.10" y1="260.6" x2="395.10" y2="291.6" stroke="#848180" stroke-width="1"/>
<rect x="393.50" y="276.15" width="3.2" height="1.70" fill="#e05a45" stroke="#8a2a1e"/>
<line x1="400.57" y1="278.0" x2="400.57" y2="305.6" stroke="#848180" stroke-width="1"/>
<rect x="398.97" y="278.40" width="3.2" height="2.80" fill="#e05a45" stroke="#8a2a1e"/>
<line x1="406.05" y1="268.0" x2="406.05" y2="285.0" stroke="#848180" stroke-width="1"/>
<rect x="404.45" y="278.80" width="3.2" height="2.40" fill="#6aa583" stroke="#33704f"/>
<line x1="411.52" y1="264.4" x2="411.52" y2="278.4" stroke="#848180" stroke-width="1"/>
<rect x="409.92" y="269.80" width="3.2" height="8.20" fill="#6aa583" stroke="#33704f"/>
<line x1="417.00" y1="248.4" x2="417.00" y2="281.0" stroke="#848180" stroke-width="1"/>
<rect x="415.40" y="252.80" width="3.2" height="16.40" fill="#6aa583" stroke="#33704f"/>
<line x1="422.48" y1="224.4" x2="422.48" y2="257.6" stroke="#848180" stroke-width="1"/>
<rect x="420.88" y="239.80" width="3.2" height="12.20" fill="#6aa583" stroke="#33704f"/>
<line x1="427.95" y1="237.4" x2="427.95" y2="279.0" stroke="#848180" stroke-width="1"/>
<rect x="426.35" y="239.80" width="3.2" height="7.20" fill="#e05a45" stroke="#8a2a1e"/>
<line x1="433.43" y1="234.0" x2="433.43" y2="258.6" stroke="#848180" stroke-width="1"/>
<rect x="431.83" y="247.80" width="3.2" height="8.40" fill="#e05a45" stroke="#8a2a1e"/>
<line x1="438.90" y1="258.0" x2="438.90" y2="354.0" stroke="#848180" stroke-width="1"/>
<rect x="437.30" y="260.40" width="3.2" height="24.20" fill="#e05a45" stroke="#8a2a1e"/>
<line x1="444.38" y1="256.0" x2="444.38" y2="289.0" stroke="#848180" stroke-width="1"/>
<rect x="442.78" y="269.80" width="3.2" height="14.20" fill="#6aa583" stroke="#33704f"/>
<line x1="449.86" y1="269.4" x2="449.86" y2="298.4" stroke="#848180" stroke-width="1"/>
<rect x="448.26" y="269.80" width="3.2" height="10.40" fill="#e05a45" stroke="#8a2a1e"/>
<line x1="455.33" y1="261.0" x2="455.33" y2="282.0" stroke="#848180" stroke-width="1"/>
<rect x="453.73" y="267.40" width="3.2" height="12.80" fill="#6aa583" stroke="#33704f"/>
<line x1="460.81" y1="257.0" x2="460.81" y2="267.0" stroke="#848180" stroke-width="1"/>
<rect x="459.21" y="262.40" width="3.2" height="4.20" fill="#6aa583" stroke="#33704f"/>
<line x1="466.28" y1="258.0" x2="466.28" y2="278.0" stroke="#848180" stroke-width="1"/>
<rect x="464.68" y="262.40" width="3.2" height="3.80" fill="#e05a45" stroke="#8a2a1e"/>
<line x1="471.76" y1="266.6" x2="471.76" y2="287.0" stroke="#848180" stroke-width="1"/>
<rect x="470.16" y="267.00" width="3.2" height="6.20" fill="#e05a45" stroke="#8a2a1e"/>
<line x1="477.24" y1="262.0" x2="477.24" y2="276.4" stroke="#848180" stroke-width="1"/>
<rect x="475.64" y="264.40" width="3.2" height="8.80" fill="#6aa583" stroke="#33704f"/>
<line x1="482.71" y1="264.0" x2="482.71" y2="282.0" stroke="#848180" stroke-width="1"/>
<rect x="481.11" y="264.40" width="3.2" height="11.60" fill="#e05a45" stroke="#8a2a1e"/>
<line x1="488.19" y1="263.6" x2="488.19" y2="280.0" stroke="#848180" stroke-width="1"/>
<rect x="486.59" y="267.00" width="3.2" height="9.00" fill="#6aa583" stroke="#33704f"/>
<line x1="493.66" y1="259.0" x2="493.66" y2="271.0" stroke="#848180" stroke-width="1"/>
<rect x="492.06" y="261.40" width="3.2" height="4.80" fill="#6aa583" stroke="#33704f"/>
<line x1="499.14" y1="223.6" x2="499.14" y2="260.6" stroke="#848180" stroke-width="1"/>
<rect x="497.54" y="227.80" width="3.2" height="32.40" fill="#6aa583" stroke="#33704f"/>
<line x1="504.62" y1="201.4" x2="504.62" y2="232.4" stroke="#848180" stroke-width="1"/>
<rect x="503.02" y="205.00" width="3.2" height="22.00" fill="#6aa583" stroke="#33704f"/>
<line x1="510.09" y1="187.0" x2="510.09" y2="215.0" stroke="#848180" stroke-width="1"/>
<rect x="508.49" y="201.80" width="3.2" height="2.40" fill="#6aa583" stroke="#33704f"/>
<line x1="515.57" y1="180.6" x2="515.57" y2="205.6" stroke="#848180" stroke-width="1"/>
<rect x="513.97" y="195.40" width="3.2" height="5.60" fill="#6aa583" stroke="#33704f"/>
<line x1="521.04" y1="178.0" x2="521.04" y2="197.6" stroke="#848180" stroke-width="1"/>
<rect x="519.44" y="183.80" width="3.2" height="10.20" fill="#6aa583" stroke="#33704f"/>
<line x1="526.52" y1="148.4" x2="526.52" y2="183.4" stroke="#848180" stroke-width="1"/>
<rect x="524.92" y="148.80" width="3.2" height="34.20" fill="#6aa583" stroke="#33704f"/>
<line x1="532.00" y1="113.0" x2="532.00" y2="201.0" stroke="#848180" stroke-width="1"/>
<rect x="530.40" y="142.40" width="3.2" height="5.60" fill="#6aa583" stroke="#33704f"/>
<line x1="537.47" y1="92.6" x2="537.47" y2="148.0" stroke="#848180" stroke-width="1"/>
<rect x="535.87" y="94.40" width="3.2" height="47.60" fill="#6aa583" stroke="#33704f"/>
<line x1="542.95" y1="63.6" x2="542.95" y2="120.0" stroke="#848180" stroke-width="1"/>
<rect x="541.35" y="94.40" width="3.2" height="12.60" fill="#e05a45" stroke="#8a2a1e"/>
<line x1="548.42" y1="80.0" x2="548.42" y2="158.4" stroke="#848180" stroke-width="1"/>
<rect x="546.82" y="108.00" width="3.2" height="34.00" fill="#e05a45" stroke="#8a2a1e"/>
<line x1="553.90" y1="95.6" x2="553.90" y2="157.0" stroke="#848180" stroke-width="1"/>
<rect x="552.30" y="104.00" width="3.2" height="38.00" fill="#6aa583" stroke="#33704f"/>
<line x1="559.38" y1="53.0" x2="559.38" y2="103.6" stroke="#848180" stroke-width="1"/>
<rect x="557.78" y="64.40" width="3.2" height="38.80" fill="#6aa583" stroke="#33704f"/>
<line x1="564.85" y1="64.0" x2="564.85" y2="85.0" stroke="#848180" stroke-width="1"/>
<rect x="563.25" y="64.40" width="3.2" height="5.80" fill="#e05a45" stroke="#8a2a1e"/>
<line x1="570.33" y1="65.6" x2="570.33" y2="101.0" stroke="#848180" stroke-width="1"/>
<rect x="568.73" y="70.80" width="3.2" height="26.80" fill="#e05a45" stroke="#8a2a1e"/>
<line x1="575.80" y1="95.6" x2="575.80" y2="231.6" stroke="#848180" stroke-width="1"/>
<rect x="574.20" y="98.40" width="3.2" height="61.60" fill="#e05a45" stroke="#8a2a1e"/>
<line x1="581.28" y1="134.0" x2="581.28" y2="261.6" stroke="#848180" stroke-width="1"/>
<rect x="579.68" y="160.80" width="3.2" height="15.20" fill="#e05a45" stroke="#8a2a1e"/>
<line x1="586.76" y1="154.0" x2="586.76" y2="200.6" stroke="#848180" stroke-width="1"/>
<rect x="584.76" y="175.9" width="4" height="1.2" fill="#8a2a1e" stroke="none"/>
<line x1="592.23" y1="156.0" x2="592.23" y2="187.6" stroke="#848180" stroke-width="1"/>
<rect x="590.63" y="174.00" width="3.2" height="3.60" fill="#6aa583" stroke="#33704f"/>
<line x1="597.71" y1="133.0" x2="597.71" y2="173.6" stroke="#848180" stroke-width="1"/>
<rect x="596.11" y="138.40" width="3.2" height="34.80" fill="#6aa583" stroke="#33704f"/>
<line x1="603.18" y1="138.0" x2="603.18" y2="182.0" stroke="#848180" stroke-width="1"/>
<rect x="601.58" y="138.40" width="3.2" height="31.60" fill="#e05a45" stroke="#8a2a1e"/>
<line x1="608.66" y1="160.0" x2="608.66" y2="211.0" stroke="#848180" stroke-width="1"/>
<rect x="607.06" y="170.80" width="3.2" height="14.20" fill="#e05a45" stroke="#8a2a1e"/>
<line x1="614.14" y1="179.0" x2="614.14" y2="215.0" stroke="#848180" stroke-width="1"/>
<rect x="612.54" y="185.80" width="3.2" height="4.20" fill="#e05a45" stroke="#8a2a1e"/>
<line x1="619.61" y1="167.6" x2="619.61" y2="200.0" stroke="#848180" stroke-width="1"/>
<rect x="618.01" y="168.00" width="3.2" height="22.00" fill="#6aa583" stroke="#33704f"/>
<line x1="625.09" y1="154.0" x2="625.09" y2="180.4" stroke="#848180" stroke-width="1"/>
<rect x="623.49" y="170.15" width="3.2" height="2.10" fill="#e05a45" stroke="#8a2a1e"/>
<line x1="630.56" y1="163.0" x2="630.56" y2="189.0" stroke="#848180" stroke-width="1"/>
<rect x="628.96" y="171.15" width="3.2" height="1.10" fill="#6aa583" stroke="#33704f"/>
<line x1="636.04" y1="148.0" x2="636.04" y2="176.0" stroke="#848180" stroke-width="1"/>
<rect x="634.44" y="154.40" width="3.2" height="15.60" fill="#6aa583" stroke="#33704f"/>
<line x1="641.52" y1="114.4" x2="641.52" y2="158.0" stroke="#848180" stroke-width="1"/>
<rect x="639.92" y="118.40" width="3.2" height="34.80" fill="#6aa583" stroke="#33704f"/>
<line x1="646.99" y1="115.0" x2="646.99" y2="142.0" stroke="#848180" stroke-width="1"/>
<rect x="645.39" y="118.40" width="3.2" height="15.60" fill="#e05a45" stroke="#8a2a1e"/>
<line x1="652.47" y1="131.0" x2="652.47" y2="177.6" stroke="#848180" stroke-width="1"/>
<rect x="650.87" y="134.80" width="3.2" height="33.20" fill="#e05a45" stroke="#8a2a1e"/>
<line x1="657.94" y1="147.0" x2="657.94" y2="180.4" stroke="#848180" stroke-width="1"/>
<rect x="656.34" y="152.80" width="3.2" height="15.20" fill="#6aa583" stroke="#33704f"/>
<line x1="663.42" y1="140.0" x2="663.42" y2="207.0" stroke="#848180" stroke-width="1"/>
<rect x="661.82" y="152.80" width="3.2" height="26.40" fill="#e05a45" stroke="#8a2a1e"/>
<line x1="668.90" y1="178.0" x2="668.90" y2="271.0" stroke="#848180" stroke-width="1"/>
<rect x="667.30" y="180.40" width="3.2" height="32.20" fill="#e05a45" stroke="#8a2a1e"/>
<line x1="674.37" y1="185.0" x2="674.37" y2="234.0" stroke="#848180" stroke-width="1"/>
<rect x="672.77" y="195.40" width="3.2" height="17.20" fill="#6aa583" stroke="#33704f"/>
<line x1="679.85" y1="195.0" x2="679.85" y2="253.0" stroke="#848180" stroke-width="1"/>
<rect x="678.25" y="195.40" width="3.2" height="43.80" fill="#e05a45" stroke="#8a2a1e"/>
<line x1="685.32" y1="230.0" x2="685.32" y2="306.0" stroke="#848180" stroke-width="1"/>
<rect x="683.72" y="240.40" width="3.2" height="40.60" fill="#e05a45" stroke="#8a2a1e"/>
<line x1="690.80" y1="246.0" x2="690.80" y2="325.0" stroke="#848180" stroke-width="1"/>
<rect x="689.20" y="253.80" width="3.2" height="26.40" fill="#6aa583" stroke="#33704f"/>
<line x1="696.28" y1="228.0" x2="696.28" y2="273.6" stroke="#848180" stroke-width="1"/>
<rect x="694.68" y="253.80" width="3.2" height="9.40" fill="#e05a45" stroke="#8a2a1e"/>
<line x1="701.75" y1="234.4" x2="701.75" y2="263.6" stroke="#848180" stroke-width="1"/>
<rect x="700.15" y="244.80" width="3.2" height="18.40" fill="#6aa583" stroke="#33704f"/>
<line x1="707.23" y1="223.0" x2="707.23" y2="254.4" stroke="#848180" stroke-width="1"/>
<rect x="705.63" y="224.80" width="3.2" height="19.20" fill="#6aa583" stroke="#33704f"/>
<line x1="712.70" y1="214.4" x2="712.70" y2="243.6" stroke="#848180" stroke-width="1"/>
<rect x="711.10" y="224.80" width="3.2" height="7.20" fill="#e05a45" stroke="#8a2a1e"/>
<line x1="718.18" y1="232.6" x2="718.18" y2="254.4" stroke="#848180" stroke-width="1"/>
<rect x="716.58" y="233.00" width="3.2" height="11.00" fill="#e05a45" stroke="#8a2a1e"/>
<line x1="723.66" y1="225.0" x2="723.66" y2="244.4" stroke="#848180" stroke-width="1"/>
<rect x="722.06" y="228.80" width="3.2" height="15.20" fill="#6aa583" stroke="#33704f"/>
<line x1="729.13" y1="228.4" x2="729.13" y2="239.6" stroke="#848180" stroke-width="1"/>
<rect x="727.53" y="228.80" width="3.2" height="6.40" fill="#e05a45" stroke="#8a2a1e"/>
<line x1="734.61" y1="209.0" x2="734.61" y2="235.6" stroke="#848180" stroke-width="1"/>
<rect x="733.01" y="211.00" width="3.2" height="24.20" fill="#6aa583" stroke="#33704f"/>
<line x1="740.08" y1="201.6" x2="740.08" y2="214.4" stroke="#848180" stroke-width="1"/>
<rect x="738.48" y="207.75" width="3.2" height="2.50" fill="#6aa583" stroke="#33704f"/>
<line x1="745.56" y1="202.0" x2="745.56" y2="212.0" stroke="#848180" stroke-width="1"/>
<rect x="743.96" y="205.55" width="3.2" height="1.90" fill="#6aa583" stroke="#33704f"/>
<line x1="751.04" y1="193.0" x2="751.04" y2="205.4" stroke="#848180" stroke-width="1"/>
<rect x="749.44" y="193.40" width="3.2" height="11.60" fill="#6aa583" stroke="#33704f"/>
<line x1="756.51" y1="190.4" x2="756.51" y2="214.0" stroke="#848180" stroke-width="1"/>
<rect x="754.91" y="193.40" width="3.2" height="18.60" fill="#e05a45" stroke="#8a2a1e"/>
<line x1="761.99" y1="199.0" x2="761.99" y2="212.4" stroke="#848180" stroke-width="1"/>
<rect x="760.39" y="204.80" width="3.2" height="7.20" fill="#6aa583" stroke="#33704f"/>
<line x1="767.46" y1="198.4" x2="767.46" y2="224.6" stroke="#848180" stroke-width="1"/>
<rect x="765.86" y="204.80" width="3.2" height="16.20" fill="#e05a45" stroke="#8a2a1e"/>
<line x1="772.94" y1="215.0" x2="772.94" y2="242.4" stroke="#848180" stroke-width="1"/>
<rect x="771.34" y="221.80" width="3.2" height="13.40" fill="#e05a45" stroke="#8a2a1e"/>
<line x1="778.42" y1="226.0" x2="778.42" y2="251.0" stroke="#848180" stroke-width="1"/>
<rect x="776.82" y="236.00" width="3.2" height="9.60" fill="#e05a45" stroke="#8a2a1e"/>
<line x1="783.89" y1="222.0" x2="783.89" y2="252.4" stroke="#848180" stroke-width="1"/>
<rect x="782.29" y="231.80" width="3.2" height="13.80" fill="#6aa583" stroke="#33704f"/>
<line x1="789.37" y1="225.0" x2="789.37" y2="245.0" stroke="#848180" stroke-width="1"/>
<rect x="787.77" y="231.80" width="3.2" height="5.20" fill="#e05a45" stroke="#8a2a1e"/>
<line x1="794.84" y1="235.0" x2="794.84" y2="242.4" stroke="#848180" stroke-width="1"/>
<rect x="793.24" y="235.15" width="3.2" height="2.10" fill="#6aa583" stroke="#33704f"/>
<line x1="800.32" y1="224.4" x2="800.32" y2="237.0" stroke="#848180" stroke-width="1"/>
<rect x="798.72" y="227.80" width="3.2" height="6.40" fill="#6aa583" stroke="#33704f"/>
<line x1="805.80" y1="218.4" x2="805.80" y2="228.4" stroke="#848180" stroke-width="1"/>
<rect x="804.20" y="225.75" width="3.2" height="1.30" fill="#6aa583" stroke="#33704f"/>
<line x1="811.27" y1="221.0" x2="811.27" y2="232.4" stroke="#848180" stroke-width="1"/>
<rect x="809.67" y="226.40" width="3.2" height="5.60" fill="#e05a45" stroke="#8a2a1e"/>
<line x1="816.75" y1="221.0" x2="816.75" y2="233.6" stroke="#848180" stroke-width="1"/>
<rect x="815.15" y="226.40" width="3.2" height="5.60" fill="#6aa583" stroke="#33704f"/>
<line x1="822.22" y1="226.4" x2="822.22" y2="233.6" stroke="#848180" stroke-width="1"/>
<rect x="820.62" y="226.80" width="3.2" height="3.80" fill="#e05a45" stroke="#8a2a1e"/>
<line x1="827.70" y1="228.0" x2="827.70" y2="231.4" stroke="#848180" stroke-width="1"/>
<rect x="825.70" y="230.5" width="4" height="1.2" fill="#8a2a1e" stroke="none"/>
<line x1="833.18" y1="227.0" x2="833.18" y2="236.4" stroke="#848180" stroke-width="1"/>
<rect x="831.58" y="228.75" width="3.2" height="2.10" fill="#6aa583" stroke="#33704f"/>
<line x1="838.65" y1="228.6" x2="838.65" y2="232.4" stroke="#848180" stroke-width="1"/>
<rect x="837.05" y="229.00" width="3.2" height="3.00" fill="#e05a45" stroke="#8a2a1e"/>
<line x1="844.13" y1="232.6" x2="844.13" y2="247.6" stroke="#848180" stroke-width="1"/>
<rect x="842.53" y="233.00" width="3.2" height="9.60" fill="#e05a45" stroke="#8a2a1e"/>
<line x1="849.60" y1="240.4" x2="849.60" y2="271.6" stroke="#848180" stroke-width="1"/>
<rect x="848.00" y="243.80" width="3.2" height="19.20" fill="#e05a45" stroke="#8a2a1e"/>
<line x1="855.08" y1="256.0" x2="855.08" y2="283.6" stroke="#848180" stroke-width="1"/>
<rect x="853.48" y="264.00" width="3.2" height="15.20" fill="#e05a45" stroke="#8a2a1e"/>
<line x1="860.56" y1="268.4" x2="860.56" y2="298.0" stroke="#848180" stroke-width="1"/>
<rect x="858.96" y="270.40" width="3.2" height="8.80" fill="#6aa583" stroke="#33704f"/>
<line x1="866.03" y1="264.0" x2="866.03" y2="284.6" stroke="#848180" stroke-width="1"/>
<rect x="864.43" y="270.80" width="3.2" height="13.40" fill="#e05a45" stroke="#8a2a1e"/>
<line x1="871.51" y1="269.0" x2="871.51" y2="290.0" stroke="#848180" stroke-width="1"/>
<rect x="869.91" y="273.80" width="3.2" height="10.20" fill="#6aa583" stroke="#33704f"/>
<line x1="876.98" y1="267.0" x2="876.98" y2="287.0" stroke="#848180" stroke-width="1"/>
<rect x="875.38" y="273.80" width="3.2" height="6.40" fill="#e05a45" stroke="#8a2a1e"/>
<line x1="882.46" y1="275.0" x2="882.46" y2="285.6" stroke="#848180" stroke-width="1"/>
<rect x="880.86" y="280.55" width="3.2" height="1.30" fill="#e05a45" stroke="#8a2a1e"/>
<line x1="887.94" y1="279.0" x2="887.94" y2="315.6" stroke="#848180" stroke-width="1"/>
<rect x="886.34" y="282.80" width="3.2" height="23.40" fill="#e05a45" stroke="#8a2a1e"/>
<line x1="893.41" y1="304.0" x2="893.41" y2="319.6" stroke="#848180" stroke-width="1"/>
<rect x="891.41" y="306.3" width="4" height="1.2" fill="#8a2a1e" stroke="none"/>
<line x1="898.89" y1="303.0" x2="898.89" y2="315.6" stroke="#848180" stroke-width="1"/>
<rect x="897.29" y="307.80" width="3.2" height="2.40" fill="#e05a45" stroke="#8a2a1e"/>
<line x1="904.36" y1="308.0" x2="904.36" y2="329.0" stroke="#848180" stroke-width="1"/>
<rect x="902.76" y="311.40" width="3.2" height="14.60" fill="#e05a45" stroke="#8a2a1e"/>
<line x1="909.84" y1="315.0" x2="909.84" y2="358.0" stroke="#848180" stroke-width="1"/>
<rect x="908.24" y="327.40" width="3.2" height="2.80" fill="#e05a45" stroke="#8a2a1e"/>
<line x1="915.32" y1="323.6" x2="915.32" y2="337.6" stroke="#848180" stroke-width="1"/>
<rect x="913.72" y="325.80" width="3.2" height="4.40" fill="#6aa583" stroke="#33704f"/>
<line x1="920.79" y1="321.0" x2="920.79" y2="337.6" stroke="#848180" stroke-width="1"/>
<rect x="918.79" y="323.9" width="4" height="1.2" fill="#33704f" stroke="none"/>
<line x1="926.27" y1="314.0" x2="926.27" y2="328.0" stroke="#848180" stroke-width="1"/>
<rect x="924.27" y="323.1" width="4" height="1.2" fill="#33704f" stroke="none"/>
<line x1="931.74" y1="324.0" x2="931.74" y2="329.0" stroke="#848180" stroke-width="1"/>
<rect x="930.14" y="324.40" width="3.2" height="4.20" fill="#e05a45" stroke="#8a2a1e"/>
</g>
</g>
<rect x="4.5" y="481.4" width="927.0" height="43.4" fill="#dcb4e0" fill-opacity="0.42"/>
<g stroke="#c3bdbf" stroke-width="1" stroke-dasharray="4 4">
<line x1="4.5" y1="481.4" x2="931.5" y2="481.4"/><line x1="4.5" y1="524.8" x2="931.5" y2="524.8"/>
</g>
<g clip-path="url(#cpRsi)">
<polyline fill="none" stroke="#a43bb8" stroke-width="1.25" stroke-linejoin="round" stroke-linecap="round" points="6.3,504.0 11.8,503.0 17.3,498.4 22.7,497.0 28.2,497.6 33.7,503.6 39.2,503.0 44.6,501.4 50.1,501.4 55.6,488.6 61.1,487.0 66.5,488.0 72.0,490.0 77.5,499.4 83.0,501.0 88.4,503.6 93.9,506.0 99.4,507.4 104.9,509.6 110.3,514.0 115.8,507.4 121.3,507.4 126.8,508.0 132.2,507.0 137.7,508.6 143.2,503.4 148.7,500.6 154.2,503.0 159.6,510.6 165.1,513.6 170.6,500.6 176.1,503.0 181.5,506.0 187.0,505.4 192.5,508.6 198.0,498.6 203.4,493.0 208.9,505.0 214.4,497.4 219.9,501.6 225.3,497.6 230.8,491.4 236.3,493.0 241.8,493.6 247.2,493.0 252.7,488.0 258.2,485.0 263.7,481.6 269.1,485.6 274.6,480.4 280.1,475.0 285.6,467.4 291.1,469.4 296.5,468.6 302.0,468.4 307.5,473.0 313.0,487.4 318.4,487.4 323.9,481.6 329.4,483.4 334.9,482.4 340.3,481.6 345.8,486.6 351.3,496.4 356.8,496.0 362.2,489.0 367.7,484.4 373.2,496.6 378.7,483.0 384.1,470.6 389.6,469.4 395.1,471.0 400.6,473.6 406.0,473.0 411.5,471.0 417.0,468.0 422.5,466.4 428.0,472.0 433.4,478.0 438.9,493.4 444.4,489.0 449.9,494.0 455.3,490.0 460.8,488.6 466.3,491.0 471.8,494.4 477.2,491.4 482.7,496.6 488.2,493.4 493.7,491.6 499.1,483.4 504.6,478.6 510.1,477.6 515.6,476.4 521.0,474.6 526.5,470.0 532.0,469.0 537.5,464.4 542.9,470.0 548.4,483.6 553.9,478.6 559.4,474.4 564.9,476.0 570.3,483.0 575.8,498.6 581.3,502.4 586.8,502.4 592.2,501.4 597.7,495.4 603.2,502.0 608.7,505.0 614.1,505.6 619.6,501.4 625.1,502.4 630.6,501.6 636.0,498.0 641.5,491.4 647.0,495.6 652.5,503.4 657.9,500.4 663.4,506.0 668.9,511.6 674.4,507.6 679.8,514.4 685.3,520.0 690.8,514.0 696.3,515.4 701.8,511.6 707.2,507.4 712.7,509.0 718.2,511.0 723.7,507.4 729.1,508.6 734.6,503.4 740.1,503.0 745.6,502.4 751.0,499.8 756.5,504.4 762.0,502.4 767.5,504.4 772.9,506.0 778.4,505.0 783.9,507.4 789.4,509.0 794.8,508.0 800.3,506.0 805.8,505.4 811.3,507.4 816.7,505.4 822.2,506.6 827.7,507.0 833.2,506.2 838.7,507.4 844.1,511.4 849.6,517.4 855.1,521.6 860.6,517.4 866.0,520.6 871.5,515.6 877.0,517.6 882.5,518.6 887.9,524.0 893.4,524.4 898.9,525.6 904.4,528.6 909.8,529.6 915.3,526.4 920.8,525.6 926.3,525.2 931.7,526.6"/>
</g>
<g stroke="#787472" stroke-width="1" fill="none">
<line x1="4.5" y1="460.5" x2="975.5" y2="460.5"/>
<line x1="4.5" y1="533.5" x2="975.5" y2="533.5"/>
<line x1="931.5" y1="31.5" x2="931.5" y2="553.5"/>
<rect x="4.5" y="31.5" width="971.0" height="522.0"/>
<line x1="931.5" y1="453.5" x2="934.8" y2="453.5"/>
<line x1="931.5" y1="430.5" x2="934.8" y2="430.5"/>
<line x1="931.5" y1="407.5" x2="934.8" y2="407.5"/>
<line x1="931.5" y1="384.5" x2="934.8" y2="384.5"/>
<line x1="931.5" y1="361.5" x2="934.8" y2="361.5"/>
<line x1="931.5" y1="338.5" x2="934.8" y2="338.5"/>
<line x1="931.5" y1="315.5" x2="934.8" y2="315.5"/>
<line x1="931.5" y1="292.5" x2="934.8" y2="292.5"/>
<line x1="931.5" y1="269.5" x2="934.8" y2="269.5"/>
<line x1="931.5" y1="246.5" x2="934.8" y2="246.5"/>
<line x1="931.5" y1="223.5" x2="934.8" y2="223.5"/>
<line x1="931.5" y1="201.5" x2="934.8" y2="201.5"/>
<line x1="931.5" y1="178.5" x2="934.8" y2="178.5"/>
<line x1="931.5" y1="155.5" x2="934.8" y2="155.5"/>
<line x1="931.5" y1="132.5" x2="934.8" y2="132.5"/>
<line x1="931.5" y1="109.5" x2="934.8" y2="109.5"/>
<line x1="931.5" y1="86.5" x2="934.8" y2="86.5"/>
<line x1="931.5" y1="63.5" x2="934.8" y2="63.5"/>
<line x1="931.5" y1="40.5" x2="934.8" y2="40.5"/>
<line x1="931.5" y1="470.5" x2="934.8" y2="470.5"/>
<line x1="931.5" y1="492.5" x2="934.8" y2="492.5"/>
<line x1="931.5" y1="513.5" x2="934.8" y2="513.5"/>
<line x1="72.5" y1="533.5" x2="72.5" y2="536.3"/>
<line x1="159.5" y1="533.5" x2="159.5" y2="536.3"/>
<line x1="225.5" y1="533.5" x2="225.5" y2="536.3"/>
<line x1="323.5" y1="533.5" x2="323.5" y2="536.3"/>
<line x1="378.5" y1="533.5" x2="378.5" y2="536.3"/>
<line x1="433.5" y1="533.5" x2="433.5" y2="536.3"/>
<line x1="493.5" y1="533.5" x2="493.5" y2="536.3"/>
<line x1="570.5" y1="533.5" x2="570.5" y2="536.3"/>
<line x1="663.5" y1="533.5" x2="663.5" y2="536.3"/>
<line x1="723.5" y1="533.5" x2="723.5" y2="536.3"/>
<line x1="816.5" y1="533.5" x2="816.5" y2="536.3"/>
<line x1="876.5" y1="533.5" x2="876.5" y2="536.3"/>
</g>
<text x="937.8" y="456.5" font-size="8.2" fill="#4f4b49" textLength="29.0" lengthAdjust="spacingAndGlyphs">−50.00%</text>
<text x="937.8" y="433.5" font-size="8.2" fill="#4f4b49" textLength="29.0" lengthAdjust="spacingAndGlyphs">−25.00%</text>
<text x="937.8" y="410.5" font-size="8.2" fill="#4f4b49" textLength="20.0" lengthAdjust="spacingAndGlyphs">0.00%</text>
<text x="937.8" y="387.5" font-size="8.2" fill="#4f4b49" textLength="24.6" lengthAdjust="spacingAndGlyphs">25.00%</text>
<text x="937.8" y="364.5" font-size="8.2" fill="#4f4b49" textLength="24.6" lengthAdjust="spacingAndGlyphs">50.00%</text>
<text x="937.8" y="341.5" font-size="8.2" fill="#4f4b49" textLength="24.6" lengthAdjust="spacingAndGlyphs">75.00%</text>
<text x="937.8" y="318.5" font-size="8.2" fill="#4f4b49" textLength="29.1" lengthAdjust="spacingAndGlyphs">100.00%</text>
<text x="937.8" y="295.5" font-size="8.2" fill="#4f4b49" textLength="29.1" lengthAdjust="spacingAndGlyphs">125.00%</text>
<text x="937.8" y="272.5" font-size="8.2" fill="#4f4b49" textLength="29.1" lengthAdjust="spacingAndGlyphs">150.00%</text>
<text x="937.8" y="249.5" font-size="8.2" fill="#4f4b49" textLength="29.1" lengthAdjust="spacingAndGlyphs">175.00%</text>
<text x="937.8" y="226.5" font-size="8.2" fill="#4f4b49" textLength="29.1" lengthAdjust="spacingAndGlyphs">200.00%</text>
<text x="937.8" y="204.5" font-size="8.2" fill="#4f4b49" textLength="29.1" lengthAdjust="spacingAndGlyphs">225.00%</text>
<text x="937.8" y="181.5" font-size="8.2" fill="#4f4b49" textLength="29.1" lengthAdjust="spacingAndGlyphs">250.00%</text>
<text x="937.8" y="158.5" font-size="8.2" fill="#4f4b49" textLength="29.1" lengthAdjust="spacingAndGlyphs">275.00%</text>
<text x="937.8" y="135.5" font-size="8.2" fill="#4f4b49" textLength="29.1" lengthAdjust="spacingAndGlyphs">300.00%</text>
<text x="937.8" y="112.5" font-size="8.2" fill="#4f4b49" textLength="29.1" lengthAdjust="spacingAndGlyphs">325.00%</text>
<text x="937.8" y="89.5" font-size="8.2" fill="#4f4b49" textLength="29.1" lengthAdjust="spacingAndGlyphs">350.00%</text>
<text x="937.8" y="66.5" font-size="8.2" fill="#4f4b49" textLength="29.1" lengthAdjust="spacingAndGlyphs">375.00%</text>
<text x="937.8" y="43.5" font-size="8.2" fill="#4f4b49" textLength="29.1" lengthAdjust="spacingAndGlyphs">400.00%</text>
<text x="937.8" y="473.5" font-size="8.2" fill="#4f4b49" textLength="20.1" lengthAdjust="spacingAndGlyphs">80.00</text>
<text x="937.8" y="495.5" font-size="8.2" fill="#4f4b49" textLength="20.1" lengthAdjust="spacingAndGlyphs">60.00</text>
<text x="937.8" y="516.5" font-size="8.2" fill="#4f4b49" textLength="20.1" lengthAdjust="spacingAndGlyphs">40.00</text>
<rect x="931.0" y="126.4" width="41.9" height="11.6" fill="#000000"/>
<line x1="931.5" y1="132.2" x2="934.1" y2="132.2" stroke="#ffffff" stroke-width="1"/>
<text x="937.8" y="135.1" font-size="8.2" fill="#ffffff" textLength="29.1" lengthAdjust="spacingAndGlyphs">300.34%</text>
<rect x="931.0" y="179.0" width="41.9" height="12.8" fill="#e05a45"/>
<line x1="931.5" y1="185.4" x2="934.1" y2="185.4" stroke="#ffffff" stroke-width="1"/>
<text x="937.8" y="188.3" font-size="8.2" fill="#ffffff" textLength="29.1" lengthAdjust="spacingAndGlyphs">242.24%</text>
<rect x="933.2" y="192.3" width="39.7" height="11.9" fill="#e05a45" stroke="#f0a79b" stroke-width="0.6"/>
<text x="935.9" y="201.1" font-size="8.2" fill="#ffffff" textLength="30.9" lengthAdjust="spacingAndGlyphs">17:54:27</text>
<rect x="931.0" y="215.0" width="41.9" height="12.0" fill="#000000"/>
<line x1="931.5" y1="221.0" x2="934.1" y2="221.0" stroke="#ffffff" stroke-width="1"/>
<text x="937.8" y="223.9" font-size="8.2" fill="#ffffff" textLength="29.1" lengthAdjust="spacingAndGlyphs">203.54%</text>
<rect x="931.0" y="323.5" width="37.0" height="12.5" fill="#e05a45"/>
<line x1="931.5" y1="329.8" x2="934.1" y2="329.8" stroke="#ffffff" stroke-width="1"/>
<text x="937.8" y="332.6" font-size="8.2" fill="#ffffff" textLength="24.6" lengthAdjust="spacingAndGlyphs">84.89%</text>
<rect x="931.0" y="412.0" width="41.8" height="12.4" fill="#ff6f05"/>
<line x1="931.5" y1="418.2" x2="934.1" y2="418.2" stroke="#ffffff" stroke-width="1"/>
<text x="937.8" y="421.1" font-size="8.2" fill="#ffffff" textLength="29.0" lengthAdjust="spacingAndGlyphs">−11.81%</text>
<g clip-path="url(#cpTime)">
<text x="67.8" y="547.6" font-size="8.2" fill="#4f4b49" textLength="7.6" lengthAdjust="spacingAndGlyphs">16</text>
<text x="152.7" y="547.6" font-size="8.2" fill="#4f4b49" textLength="13.0" lengthAdjust="spacingAndGlyphs">Nov</text>
<text x="221.1" y="547.6" font-size="8.2" fill="#4f4b49" textLength="7.6" lengthAdjust="spacingAndGlyphs">13</text>
<text x="317.2" y="547.6" font-size="8.2" fill="#4f4b49" textLength="12.6" lengthAdjust="spacingAndGlyphs">Dec</text>
<text x="374.5" y="547.6" font-size="8.2" fill="#4f4b49" textLength="7.6" lengthAdjust="spacingAndGlyphs">11</text>
<text x="429.2" y="547.6" font-size="8.2" fill="#4f4b49" textLength="7.6" lengthAdjust="spacingAndGlyphs">21</text>
<text x="484.5" y="547.6" font-size="8.2" fill="#4f4b49" font-weight="700" textLength="17.6" lengthAdjust="spacingAndGlyphs">2018</text>
<text x="566.1" y="547.6" font-size="8.2" fill="#4f4b49" textLength="7.6" lengthAdjust="spacingAndGlyphs">15</text>
<text x="656.5" y="547.6" font-size="8.2" fill="#4f4b49" textLength="13.0" lengthAdjust="spacingAndGlyphs">Feb</text>
<text x="719.5" y="547.6" font-size="8.2" fill="#4f4b49" textLength="7.6" lengthAdjust="spacingAndGlyphs">12</text>
<text x="809.9" y="547.6" font-size="8.2" fill="#4f4b49" textLength="12.8" lengthAdjust="spacingAndGlyphs">Mar</text>
<text x="872.8" y="547.6" font-size="8.2" fill="#4f4b49" textLength="7.6" lengthAdjust="spacingAndGlyphs">12</text>
<text x="927.5" y="547.6" font-size="8.2" fill="#4f4b49" textLength="7.6" lengthAdjust="spacingAndGlyphs">22</text>
</g>
<text x="11.2" y="46.6" font-size="9.0" fill="#4f4b49" font-weight="700" textLength="158.8" lengthAdjust="spacingAndGlyphs">Ethereum / U.S. Dollar, 1D, COINBASE</text>
<text x="11.4" y="59.0" font-size="9.0" fill="#4f4b49" textLength="13.0" lengthAdjust="spacingAndGlyphs">Vol</text>
<text x="11.4" y="71.4" font-size="9.0" fill="#4f4b49" textLength="58.0" lengthAdjust="spacingAndGlyphs">MA (50, close)</text>
<text x="11.4" y="83.7" font-size="9.0" fill="#4f4b49" textLength="73.0" lengthAdjust="spacingAndGlyphs">EMA (20, close, 0)</text>
<text x="11.4" y="96.0" font-size="9.0" fill="#4f4b49" textLength="78.2" lengthAdjust="spacingAndGlyphs">BTC.D, CRYPTOCAP</text>
<text x="11.4" y="476.0" font-size="9.0" fill="#4f4b49" textLength="56.0" lengthAdjust="spacingAndGlyphs">RSI (14, close)</text>
<g>
<g fill="#2196f3"><circle cx="7.7" cy="568.7" r="3.75"/><circle cx="12.6" cy="566.3" r="5.25"/><circle cx="18.7" cy="567.7" r="3.6"/><circle cx="19.8" cy="569.1" r="3.4"/><rect x="7.7" y="568" width="12.1" height="4.5"/></g>
<polyline points="5.4,570.4 11.5,565.5 16,569.6 20.2,565.4" fill="none" stroke="#ffffff" stroke-width="1.0" stroke-linejoin="round"/>
<circle cx="11.5" cy="565.5" r="1.2" fill="#ffffff"/><circle cx="16" cy="569.6" r="1.2" fill="#ffffff"/>
</g>
<text x="25.2" y="569.8" font-size="10.3" fill="#35353b" textLength="50.8" lengthAdjust="spacingAndGlyphs" stroke="#35353b" stroke-width="0.15">TradingView</text>
</svg></body></html>
